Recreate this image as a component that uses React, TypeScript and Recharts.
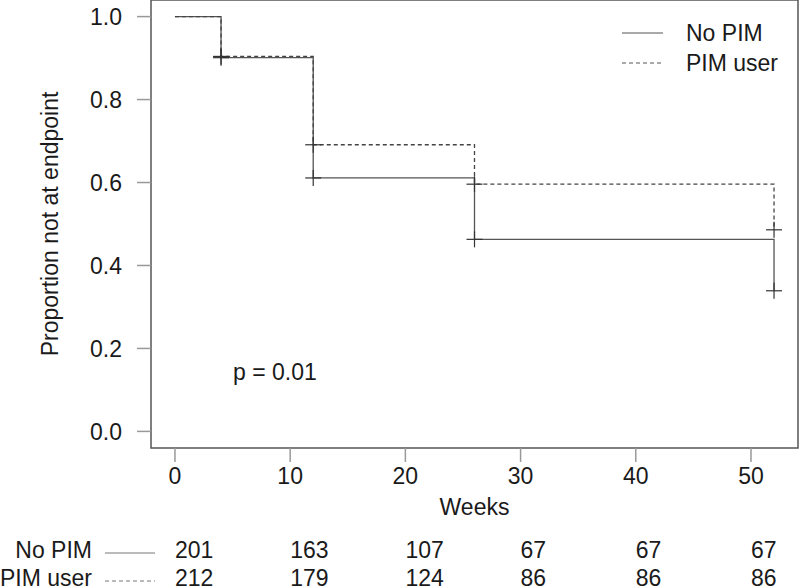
import { LineChart, Line, XAxis, YAxis, ReferenceArea, ReferenceDot, Legend } from "recharts";

// Kaplan-Meier steps (weeks, proportion not at endpoint)
const weeks = [0, 4, 12, 26, 52];
const noPim = [1, 0.901, 0.611, 0.463, 0.339];
const pimUser = [1, 0.904, 0.691, 0.596, 0.486];

const xTicks = [0, 10, 20, 30, 40, 50];
const yTicks = [0, 0.2, 0.4, 0.6, 0.8, 1.0];

// numbers at risk
const riskNoPim = [201, 163, 107, 67, 67, 67];
const riskPimUser = [212, 179, 124, 86, 86, 86];

const pValue = "p = 0.01";

const xDomain = [-2.08, 54.08];
const yDomain = [-0.04, 1.04];

const FONT = "'Liberation Sans', Arial, sans-serif";
const TEXT = "#1a1a1a";
const DASH = "4 3";

const data = weeks.map((w, i) => ({ week: w, noPim: noPim[i], pimUser: pimUser[i] }));

const series = [
  { key: "noPim", name: "No PIM", dash: undefined as string | undefined, color: "#555" },
  { key: "pimUser", name: "PIM user", dash: DASH, color: "#444" },
];

function Cross(props: any) {
  const { cx, cy, index } = props;
  if (index === 0 || cx == null || cy == null) return <g key={`c${index}`} />;
  return (
    <g key={`c${index}`} stroke="#333" strokeWidth={1.2}>
      <line x1={cx - 8} x2={cx + 8} y1={cy} y2={cy} />
      <line x1={cx} x2={cx} y1={cy - 8} y2={cy + 8} />
    </g>
  );
}

function RiskTick(props: any) {
  const { x, y, payload, values } = props;
  const i = xTicks.indexOf(payload.value);
  return (
    <text x={x} y={y + 24} textAnchor="start" dominantBaseline="central" fill={TEXT} fontSize={23}>
      {i >= 0 ? values[i] : ""}
    </text>
  );
}

function RowLabel(props: any) {
  const { viewBox, text, dash } = props;
  const y = viewBox.y + 24;
  return (
    <g>
      <text x={92} y={y} textAnchor="end" dominantBaseline="central" fill={TEXT} fontSize={23}>
        {text}
      </text>
      <line x1={105} x2={155} y1={y + 3} y2={y + 3} stroke="#777" strokeDasharray={dash} />
    </g>
  );
}

function WeeksLabel(props: any) {
  const { viewBox } = props;
  return (
    <text x={viewBox.x + viewBox.width / 2} y={viewBox.y + 59} textAnchor="middle" dominantBaseline="central" fill={TEXT} fontSize={23}>
      Weeks
    </text>
  );
}

function YLabel(props: any) {
  const { viewBox } = props;
  const cy = viewBox.y + viewBox.height / 2;
  return (
    <text x={50} y={cy} transform={`rotate(-90, 50, ${cy})`} textAnchor="middle" dominantBaseline="central" fill={TEXT} fontSize={23}>
      Proportion not at endpoint
    </text>
  );
}

function LegendBox() {
  return (
    <div style={{ fontFamily: FONT, fontSize: 23, color: TEXT }}>
      {series.map((s) => (
        <div key={s.key} style={{ display: "flex", alignItems: "center", height: 30 }}>
          <svg width={41} height={4} style={{ display: "block" }}>
            <line x1={0} x2={41} y1={2} y2={2} stroke="#555" strokeDasharray={s.dash} />
          </svg>
          <span style={{ marginLeft: 23, lineHeight: "30px" }}>{s.name}</span>
        </div>
      ))}
    </div>
  );
}

export default function App() {
  return (
    <div style={{ width: 800, height: 587, fontFamily: FONT, background: "#fff" }}>
      <style>{"body{margin:0}"}</style>
      <LineChart width={800} height={587} data={data} margin={{ top: 0, right: 2, bottom: 0, left: 0 }}>
        <XAxis
          type="number"
          dataKey="week"
          domain={xDomain}
          ticks={xTicks}
          interval={0}
          height={78}
          axisLine={false}
          tickSize={14}
          tickMargin={6}
          tickLine={{ stroke: "#999", strokeWidth: 1.5 }}
          tick={{ fill: TEXT, fontSize: 23 }}
          label={<WeeksLabel />}
        />
        <XAxis
          xAxisId="risk1"
          type="number"
          dataKey="week"
          domain={xDomain}
          allowDataOverflow
          ticks={xTicks}
          interval={0}
          height={28}
          axisLine={false}
          tickLine={false}
          tickSize={0}
          tickMargin={0}
          tick={(p: any) => <RiskTick {...p} values={riskNoPim} />}
          label={<RowLabel text="No PIM" />}
        />
        <XAxis
          xAxisId="risk2"
          type="number"
          dataKey="week"
          domain={xDomain}
          allowDataOverflow
          ticks={xTicks}
          interval={0}
          height={33}
          axisLine={false}
          tickLine={false}
          tickSize={0}
          tickMargin={0}
          tick={(p: any) => <RiskTick {...p} values={riskPimUser} />}
          label={<RowLabel text="PIM user" dash={DASH} />}
        />
        <YAxis
          type="number"
          domain={yDomain}
          ticks={yTicks}
          interval={0}
          width={151}
          axisLine={false}
          tickSize={14}
          tickMargin={15}
          tickLine={{ stroke: "#999", strokeWidth: 1.5 }}
          tick={{ fill: TEXT, fontSize: 23 }}
          tickFormatter={(v: number) => v.toFixed(1)}
          label={<YLabel />}
        />
        <ReferenceArea
          x1={xDomain[0]}
          x2={xDomain[1]}
          y1={yDomain[0]}
          y2={yDomain[1]}
          fill="none"
          stroke="#555"
          strokeWidth={1.5}
          ifOverflow="visible"
        />
        {series.map((s) => (
          <Line
            key={s.key}
            type="stepAfter"
            dataKey={s.key}
            name={s.name}
            stroke={s.color}
            strokeWidth={1.3}
            strokeDasharray={s.dash}
            dot={(p: any) => <Cross {...p} key={`${s.key}-${p.index}`} />}
            activeDot={false}
            isAnimationActive={false}
          />
        ))}
        <ReferenceDot
          x={8.68}
          y={0.143}
          r={0}
          fill="none"
          stroke="none"
          label={{ value: pValue, position: "center", fill: TEXT, fontSize: 23 }}
        />
        <Legend
          layout="vertical"
          align="center"
          verticalAlign="middle"
          wrapperStyle={{ position: "absolute", left: 622, top: 18, width: 170 }}
          content={() => <LegendBox />}
        />
      </LineChart>
    </div>
  );
}
